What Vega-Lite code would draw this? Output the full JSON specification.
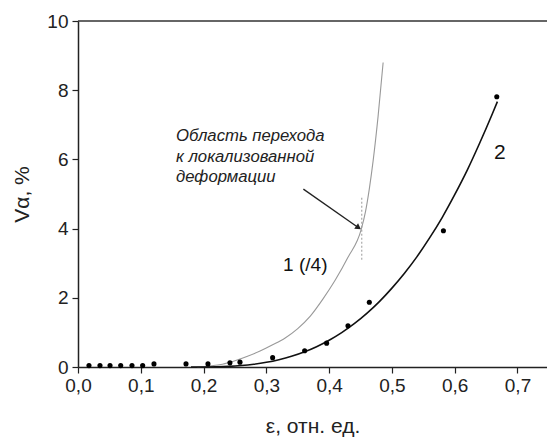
{
  "$schema": "https://vega.github.io/schema/vega-lite/v6.json",
  "autosize": {"type": "none"},
  "padding": {"left": 78, "top": 21, "right": 0, "bottom": 72},
  "width": 469,
  "height": 346,
  "background": "white",
  "config": {
    "view": {"stroke": null},
    "font": "Liberation Sans",
    "axis": {"domainColor": "#222", "domainWidth": 1.5, "tickColor": "#222", "tickWidth": 1.2, "grid": false, "labelColor": "#222", "titleColor": "#222", "labelFont": "Liberation Sans", "titleFont": "Liberation Sans", "labelFontSize": 19, "titleFontSize": 21, "titleFontWeight": "normal"}
  },
  "datasets": {
    "curve1": [
      {"x": 0.19, "y": 0}, {"x": 0.21, "y": 0.03}, {"x": 0.23, "y": 0.08}, {"x": 0.25, "y": 0.18},
      {"x": 0.27, "y": 0.31}, {"x": 0.29, "y": 0.46}, {"x": 0.31, "y": 0.64}, {"x": 0.33, "y": 0.84},
      {"x": 0.35, "y": 1.11}, {"x": 0.37, "y": 1.47}, {"x": 0.39, "y": 1.96}, {"x": 0.41, "y": 2.52},
      {"x": 0.43, "y": 3.17}, {"x": 0.451, "y": 3.97}, {"x": 0.458, "y": 4.5}, {"x": 0.464, "y": 5.15},
      {"x": 0.47, "y": 5.95}, {"x": 0.478, "y": 7.25}, {"x": 0.486, "y": 8.8}
    ],
    "curve2": [
      {"x": 0.18, "y": 0}, {"x": 0.2, "y": 0.001}, {"x": 0.22, "y": 0.006}, {"x": 0.24, "y": 0.018},
      {"x": 0.26, "y": 0.042}, {"x": 0.28, "y": 0.08}, {"x": 0.3, "y": 0.135}, {"x": 0.32, "y": 0.211},
      {"x": 0.34, "y": 0.309}, {"x": 0.36, "y": 0.434}, {"x": 0.38, "y": 0.588}, {"x": 0.4, "y": 0.775},
      {"x": 0.42, "y": 0.995}, {"x": 0.44, "y": 1.252}, {"x": 0.46, "y": 1.55}, {"x": 0.48, "y": 1.89},
      {"x": 0.5, "y": 2.28}, {"x": 0.52, "y": 2.71}, {"x": 0.54, "y": 3.19}, {"x": 0.56, "y": 3.73},
      {"x": 0.58, "y": 4.32}, {"x": 0.6, "y": 4.98}, {"x": 0.62, "y": 5.69}, {"x": 0.64, "y": 6.48},
      {"x": 0.66, "y": 7.32}, {"x": 0.668, "y": 7.67}
    ],
    "points": [
      {"x": 0.0175, "y": 0.04}, {"x": 0.035, "y": 0.04}, {"x": 0.051, "y": 0.04}, {"x": 0.068, "y": 0.04},
      {"x": 0.086, "y": 0.04}, {"x": 0.103, "y": 0.04}, {"x": 0.121, "y": 0.09}, {"x": 0.172, "y": 0.09},
      {"x": 0.207, "y": 0.09}, {"x": 0.242, "y": 0.12}, {"x": 0.258, "y": 0.14}, {"x": 0.31, "y": 0.27},
      {"x": 0.361, "y": 0.47}, {"x": 0.396, "y": 0.69}, {"x": 0.43, "y": 1.19}, {"x": 0.464, "y": 1.87},
      {"x": 0.582, "y": 3.94}, {"x": 0.667, "y": 7.81}
    ],
    "arrow": [{"x": 0.359, "y": 5.14}, {"x": 0.448, "y": 4.01}],
    "arrowhead": [{"x": 0.4468, "y": 4.03}],
    "dotted": [{"x": 0.452, "y": 3.1, "y2": 4.9}],
    "labels": [
      {"x": 0.362, "y": 2.94, "t": "1 (/4)", "s": 19},
      {"x": 0.672, "y": 6.18, "t": "2", "s": 21}
    ],
    "note": [{"x": 0.156, "y": 6.9, "t": "Область перехода\nк локализованной\nдеформации"}]
  },
  "layer": [
    {
      "data": {"values": [{}]},
      "mark": {"type": "rule", "color": "#333", "strokeWidth": 1.5},
      "encoding": {"y": {"datum": 10, "type": "quantitative"}}
    },
    {
      "data": {"name": "curve1"},
      "mark": {"type": "line", "color": "#999999", "strokeWidth": 1.1, "interpolate": "monotone"},
      "encoding": {
        "x": {"field": "x", "type": "quantitative", "scale": {"domain": [0, 0.747], "nice": false, "zero": false},
          "axis": {"values": [0, 0.05, 0.1, 0.15, 0.2, 0.25, 0.3, 0.35, 0.4, 0.45, 0.5, 0.55, 0.6, 0.65, 0.7],
            "labelExpr": "round(datum.value*100) % 10 === 0 ? replace(format(datum.value, '.1f'), '.', ',') : ''",
            "tickSize": {"condition": {"test": "round(datum.value*100) % 10 === 0", "value": 6}, "value": 3},
            "labelOverlap": false, "labelFlush": false, "labelPadding": 3,
            "title": "ε, отн. ед.", "titlePadding": 20}},
        "y": {"field": "y", "type": "quantitative", "scale": {"domain": [0, 10], "nice": false},
          "axis": {"values": [0, 1, 2, 3, 4, 5, 6, 7, 8, 9, 10],
            "labelExpr": "datum.value % 2 === 0 ? datum.label : ''",
            "tickSize": {"condition": {"test": "datum.value % 2 === 0", "value": 6}, "value": 3},
            "labelOverlap": false, "labelPadding": 4,
            "title": "Vα, %", "titlePadding": 14}}
      }
    },
    {
      "data": {"name": "curve2"},
      "mark": {"type": "line", "color": "#111", "strokeWidth": 1.6, "interpolate": "monotone"},
      "encoding": {"x": {"field": "x", "type": "quantitative"}, "y": {"field": "y", "type": "quantitative"}}
    },
    {
      "data": {"name": "points"},
      "mark": {"type": "point", "filled": true, "color": "#000", "size": 26, "opacity": 1},
      "encoding": {"x": {"field": "x", "type": "quantitative"}, "y": {"field": "y", "type": "quantitative"}}
    },
    {
      "data": {"name": "dotted"},
      "mark": {"type": "rule", "color": "#999", "strokeWidth": 1, "strokeDash": [2, 2]},
      "encoding": {"x": {"field": "x", "type": "quantitative"}, "y": {"field": "y", "type": "quantitative"}, "y2": {"field": "y2"}}
    },
    {
      "data": {"name": "arrow"},
      "mark": {"type": "line", "color": "#222", "strokeWidth": 1.3},
      "encoding": {"x": {"field": "x", "type": "quantitative"}, "y": {"field": "y", "type": "quantitative"}}
    },
    {
      "data": {"name": "arrowhead"},
      "mark": {"type": "point", "shape": "triangle-right", "filled": true, "color": "#222", "size": 45, "angle": 35, "opacity": 1},
      "encoding": {"x": {"field": "x", "type": "quantitative"}, "y": {"field": "y", "type": "quantitative"}}
    },
    {
      "data": {"name": "labels"},
      "mark": {"type": "text", "color": "#111", "font": "Liberation Sans"},
      "encoding": {"x": {"field": "x", "type": "quantitative"}, "y": {"field": "y", "type": "quantitative"},
        "text": {"field": "t"}, "size": {"field": "s", "type": "quantitative", "scale": null}}
    },
    {
      "data": {"name": "note"},
      "mark": {"type": "text", "color": "#222", "font": "Liberation Sans", "fontStyle": "italic", "fontSize": 16.7, "align": "left", "baseline": "top", "lineBreak": "\n", "lineHeight": 20.5},
      "encoding": {"x": {"field": "x", "type": "quantitative"}, "y": {"field": "y", "type": "quantitative"}, "text": {"field": "t"}}
    }
  ]
}
